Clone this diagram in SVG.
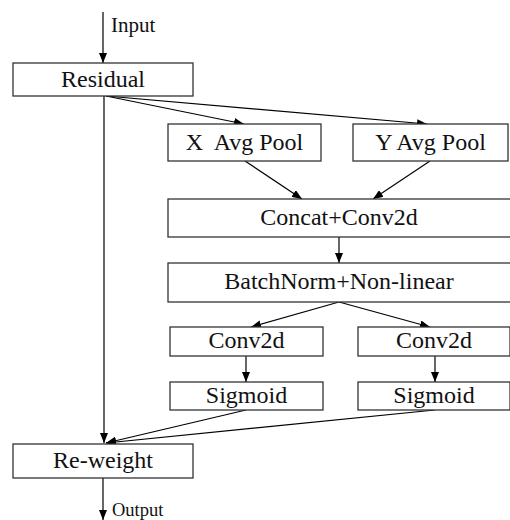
<svg xmlns="http://www.w3.org/2000/svg" width="510" height="520" viewBox="0 0 510 520">
<defs>
<marker id="ah" viewBox="0 0 10 8" refX="10" refY="4" markerWidth="10" markerHeight="8" markerUnits="userSpaceOnUse" orient="auto">
<path d="M0,0 L10,4 L0,8 Z" fill="#000"/>
</marker>
<style>
.box{fill:#fff;stroke:#333;stroke-width:1.3}
.t{font-family:'Liberation Serif','Times New Roman',serif;font-size:24px;fill:#111;text-anchor:middle;white-space:pre}
.s{font-family:'Liberation Serif','Times New Roman',serif;fill:#111}
.c{stroke:#000;stroke-width:1.2;fill:none;marker-end:url(#ah)}
</style>
</defs>
<rect width="510" height="520" fill="#fff"/>
<g id="connectors">
<line class="c" x1="103" y1="12" x2="103" y2="63"/>
<line class="c" x1="104" y1="96" x2="104" y2="443"/>
<line class="c" x1="106" y1="96" x2="244" y2="124"/>
<line class="c" x1="106" y1="96" x2="427" y2="124"/>
<line class="c" x1="245" y1="161" x2="302" y2="199"/>
<line class="c" x1="430" y1="161" x2="373" y2="199"/>
<line class="c" x1="339" y1="237" x2="339" y2="263"/>
<line class="c" x1="339" y1="302" x2="251" y2="327"/>
<line class="c" x1="339" y1="302" x2="430" y2="327"/>
<line class="c" x1="246" y1="356" x2="246" y2="382"/>
<line class="c" x1="435" y1="356" x2="435" y2="382"/>
<line class="c" x1="246" y1="410" x2="106" y2="443"/>
<line class="c" x1="435" y1="410" x2="106" y2="443"/>
<line class="c" x1="103" y1="478" x2="103" y2="520"/>
</g>
<g id="input"><text class="s" x="111" y="32" font-size="21">Input</text></g>
<g id="residual"><rect class="box" x="13" y="63" width="180" height="33"/><text class="t" x="103" y="87">Residual</text></g>
<g id="xpool"><rect class="box" x="168" y="124" width="153" height="37"/><text class="t" x="244.5" y="150">X  Avg Pool</text></g>
<g id="ypool"><rect class="box" x="353" y="124" width="155" height="37"/><text class="t" x="430.5" y="150">Y Avg Pool</text></g>
<g id="concat"><rect class="box" x="168" y="199" width="345" height="38"/><text class="t" x="339" y="225">Concat+Conv2d</text></g>
<g id="bn"><rect class="box" x="168" y="263" width="345" height="39"/><text class="t" x="339" y="289">BatchNorm+Non-linear</text></g>
<g id="conv1"><rect class="box" x="170" y="327" width="153" height="29"/><text class="t" x="246.5" y="348">Conv2d</text></g>
<g id="conv2"><rect class="box" x="358" y="327" width="152" height="29"/><text class="t" x="434" y="348">Conv2d</text></g>
<g id="sig1"><rect class="box" x="170" y="382" width="153" height="28"/><text class="t" x="246.5" y="403">Sigmoid</text></g>
<g id="sig2"><rect class="box" x="358" y="382" width="152" height="28"/><text class="t" x="434" y="403">Sigmoid</text></g>
<g id="reweight"><rect class="box" x="13" y="444" width="180" height="34"/><text class="t" x="103" y="468">Re-weight</text></g>
<g id="output"><text class="s" x="112" y="516" font-size="18.5">Output</text></g>
</svg>
